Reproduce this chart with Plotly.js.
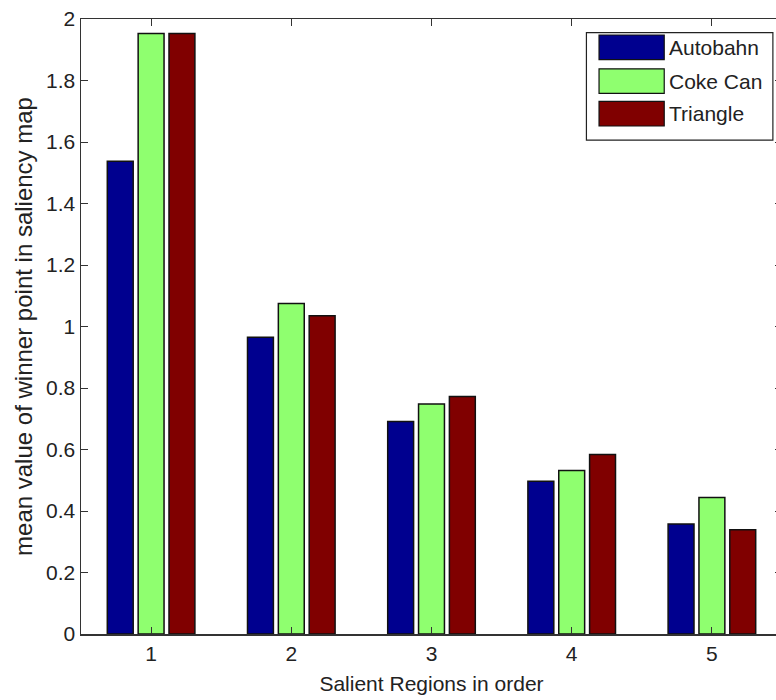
<!DOCTYPE html>
<html>
<head>
<meta charset="utf-8">
<script src="https://cdn.plot.ly/plotly-3.0.1.min.js"></script>
<style>
html, body { margin:0; padding:0; overflow:hidden; background:#fff; }
#chart { width:792px; height:700px; }
</style>
</head>
<body>
<div id="chart"></div>
<script>
const categories = [1, 2, 3, 4, 5];
const seriesNames = ["Autobahn", "Coke Can", "Triangle"];
const autobahn = [1.537, 0.965, 0.691, 0.497, 0.358];
const cokeCan  = [1.953, 1.075, 0.748, 0.532, 0.444];
const triangle = [1.953, 1.035, 0.772, 0.584, 0.339];
const colors = ["#00008F", "#8FFF6F", "#800000"];
const yTicks = [0, 0.2, 0.4, 0.6, 0.8, 1, 1.2, 1.4, 1.6, 1.8, 2];

const seriesValues = [autobahn, cokeCan, triangle];
const FONT = 'Arial, "Liberation Sans", Helvetica, sans-serif';

const traces = seriesValues.map((vals, i) => ({
  type: 'bar',
  x: categories,
  y: vals,
  name: seriesNames[i],
  marker: { color: colors[i], line: { color: '#111', width: 1.5 } },
  showlegend: false,
  hoverinfo: 'x+y+name'
}));

// Manual MATLAB-style legend (paper coords)
const shapes = [{
  type: 'rect', xref: 'paper', yref: 'paper',
  x0: 0.721, x1: 0.987, y0: 0.803, y1: 0.978,
  line: { color: '#222', width: 1.2 }, fillcolor: '#fff', layer: 'above'
}];
const annotations = [];
const rowTop = [0.974, 0.919, 0.866];
seriesNames.forEach((nm, i) => {
  shapes.push({
    type: 'rect', xref: 'paper', yref: 'paper',
    x0: 0.739, x1: 0.832, y0: rowTop[i] - 0.04, y1: rowTop[i],
    line: { color: '#111', width: 1.2 }, fillcolor: colors[i], layer: 'above'
  });
  annotations.push({
    xref: 'paper', yref: 'paper', x: 0.836, y: rowTop[i] - 0.02,
    xanchor: 'left', yanchor: 'middle', showarrow: false,
    text: nm, font: { family: FONT, size: 21, color: '#222' }
  });
});

const layout = {
  width: 792, height: 700,
  margin: { l: 81, r: 10, t: 19, b: 66 },
  paper_bgcolor: '#fff', plot_bgcolor: '#fff',
  barmode: 'group', bargap: 0.34, bargroupgap: 0.16,
  font: { family: FONT, size: 21, color: '#222' },
  xaxis: {
    range: [0.5, 5.5], tickvals: categories, ticktext: categories.map(String),
    ticks: 'inside', ticklen: 7, tickcolor: '#333', tickwidth: 1,
    showline: true, linecolor: '#333', linewidth: 1.5, mirror: 'allticks',
    showgrid: false, zeroline: false,
    tickfont: { family: FONT, size: 21, color: '#222' },
    title: { text: 'Salient Regions in order', font: { family: FONT, size: 21, color: '#222' }, standoff: 12 }
  },
  yaxis: {
    range: [0, 2], tickvals: yTicks, ticktext: yTicks.map(String),
    ticks: 'inside', ticklen: 7, tickcolor: '#333', tickwidth: 1,
    showline: true, linecolor: '#333', linewidth: 1.5, mirror: 'allticks',
    showgrid: false, zeroline: false,
    tickfont: { family: FONT, size: 21, color: '#222' },
    title: { text: 'mean value of winner point in saliency map', font: { family: FONT, size: 24, color: '#222' }, standoff: 6 }
  },
  shapes: shapes,
  annotations: annotations
};

Plotly.newPlot('chart', traces, layout, { staticPlot: true, displayModeBar: false });
</script>
</body>
</html>
